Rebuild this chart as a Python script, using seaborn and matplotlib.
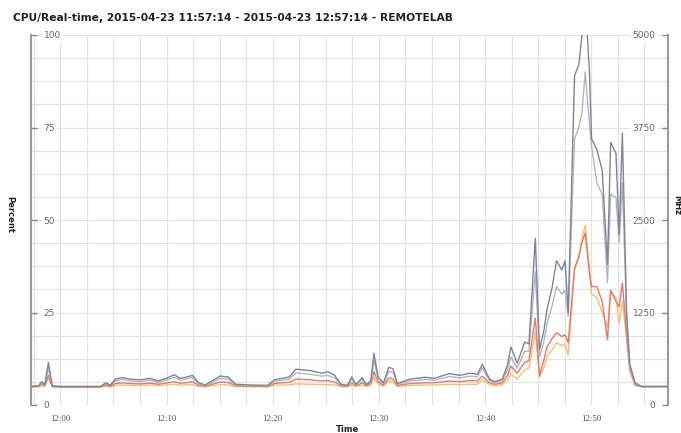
import numpy as np
import pandas as pd
import seaborn as sns
import matplotlib
matplotlib.use("Agg")
import matplotlib.pyplot as plt

# minutes since 2015-04-23 11:57:14
minutes = [0.0, 0.7, 1.0, 1.3, 1.64, 2.0, 2.8, 6.5, 7.1, 7.46, 7.94, 8.6, 9.35, 10.3,
           11.2, 12.0, 12.9, 13.5, 14.04, 14.6, 15.2, 15.8, 16.4, 17.05, 17.8, 18.55,
           19.3, 20.6, 22.3, 22.9, 23.6, 24.3, 24.95, 26.3, 27.4, 27.96, 28.6, 29.2,
           29.8, 30.2, 30.6, 31.2, 31.6, 32.0, 32.3, 32.7, 33.2, 33.7, 34.1, 34.5,
           35.7, 37.1, 38.0, 39.4, 40.4, 41.3, 42.05, 42.5, 43.2, 43.7, 44.4, 44.9,
           45.2, 45.8, 46.5, 46.9, 47.5, 47.9, 48.3, 48.6, 49.1, 49.5, 50.0, 50.3,
           50.6, 51.2, 51.6, 51.9, 52.2, 52.6, 52.8, 53.3, 53.8, 54.3, 54.6, 55.1,
           55.4, 55.7, 56.1, 56.4, 56.9, 57.5, 60.0]

series_dark_gray = [5.0, 5.2, 6.3, 5.5, 11.5, 5.2, 5.0, 5.0, 6.0, 5.3, 7.0, 7.4, 7.0, 6.8,
                    7.2, 6.5, 7.4, 8.2, 7.2, 7.5, 8.0, 6.0, 5.4, 6.5, 7.8, 7.6,
                    5.6, 5.4, 5.3, 6.8, 7.2, 7.5, 9.7, 9.3, 8.6, 9.0, 8.0, 5.6,
                    5.3, 7.6, 5.6, 7.4, 5.5, 6.5, 14.0, 7.5, 6.0, 10.2, 9.8, 5.8,
                    7.0, 7.5, 7.2, 8.5, 8.0, 8.6, 8.3, 11.0, 7.0, 6.3, 7.0, 11.0,
                    15.7, 11.3, 17.0, 16.5, 45.0, 15.0, 20.0, 25.7, 32.0, 39.0, 36.5, 39.0,
                    25.0, 89.0, 92.0, 100.0, 110.0, 90.0, 72.0, 69.0, 63.5, 38.0, 71.0, 68.0,
                    46.0, 73.5, 25.0, 11.0, 6.0, 5.0, 5.0]

series_light_gray = [5.0, 5.1, 6.0, 5.3, 10.0, 5.1, 5.0, 5.0, 5.8, 5.2, 6.5, 6.9, 6.5, 6.3,
                     6.7, 6.1, 6.9, 7.5, 6.7, 7.0, 7.4, 5.7, 5.3, 6.1, 7.2, 7.0,
                     5.4, 5.3, 5.2, 6.4, 6.7, 6.9, 8.7, 8.3, 7.8, 8.0, 7.3, 5.4,
                     5.2, 7.0, 5.4, 6.9, 5.3, 6.2, 12.0, 7.0, 5.8, 9.0, 8.8, 5.6,
                     6.5, 6.9, 6.7, 7.7, 7.3, 7.8, 7.6, 10.0, 6.6, 6.0, 6.6, 9.5,
                     13.0, 10.0, 14.5, 14.5, 36.0, 13.0, 17.0, 22.0, 27.0, 32.0, 30.0, 31.0,
                     24.0, 72.0, 75.0, 79.0, 90.0, 76.0, 70.0, 60.0, 57.0, 33.0, 57.0, 56.0,
                     44.0, 60.0, 24.0, 10.5, 5.8, 5.0, 5.0]

series_red = [5.0, 5.0, 5.6, 5.2, 8.0, 5.0, 4.9, 4.9, 5.4, 5.0, 5.8, 6.0, 5.8, 5.7,
              5.9, 5.6, 6.0, 6.3, 5.9, 6.0, 6.3, 5.3, 5.1, 5.6, 6.2, 6.1,
              5.2, 5.1, 5.0, 5.8, 6.0, 6.1, 7.0, 6.8, 6.5, 6.6, 6.2, 5.2,
              5.1, 6.0, 5.2, 6.0, 5.2, 5.8, 9.0, 6.2, 5.4, 7.3, 7.0, 5.3,
              5.8, 6.0, 6.0, 6.5, 6.3, 6.6, 6.5, 7.8, 6.0, 5.6, 6.0, 8.0,
              10.5, 8.6, 11.5, 12.0, 23.5, 8.0, 12.0, 15.7, 18.0, 19.5, 18.5, 19.0,
              16.8, 37.0, 40.0, 44.0, 46.5, 35.7, 32.0, 32.0, 28.0, 17.6, 31.0, 28.0,
              26.5, 33.0, 19.5, 10.0, 5.5, 5.0, 5.0]

series_orange = [4.8, 4.9, 5.3, 5.0, 7.3, 4.9, 4.8, 4.8, 5.1, 4.9, 5.3, 5.4, 5.3, 5.3,
                 5.4, 5.2, 5.4, 5.6, 5.4, 5.4, 5.6, 5.0, 4.9, 5.2, 5.5, 5.4,
                 5.0, 4.9, 4.9, 5.3, 5.4, 5.4, 5.7, 5.6, 5.5, 5.5, 5.4, 5.0,
                 4.9, 5.4, 5.0, 5.4, 5.0, 5.3, 7.5, 5.5, 5.1, 6.5, 6.2, 5.0,
                 5.3, 5.4, 5.4, 5.6, 5.5, 5.6, 5.6, 6.8, 5.5, 5.2, 5.5, 6.8,
                 8.5, 7.0, 9.5, 10.0, 19.5, 7.5, 10.0, 13.0, 15.0, 16.8, 16.0, 16.5,
                 13.5, 36.5, 40.0, 45.0, 48.6, 37.0, 30.0, 29.0, 25.0, 21.0, 31.0, 29.0,
                 22.0, 28.0, 18.0, 9.0, 5.2, 4.9, 4.9]

series_names = ["orange", "red", "light gray", "dark gray"]
series_colors = ["#f4bd7a", "#e47a68", "#b2b6c1", "#7e8596"]

tick_minutes = [2.767, 12.767, 22.767, 32.767, 42.767, 52.767]
tick_labels = ["12:00", "12:10", "12:20", "12:30", "12:40", "12:50"]
pct_ticks = [0, 25, 50, 75, 100]
mhz_ticks = [0, 1250, 2500, 3750, 5000]
title = "CPU/Real-time, 2015-04-23 11:57:14 - 2015-04-23 12:57:14 - REMOTELAB"

frames = []
for name, vals in zip(series_names, [series_orange, series_red, series_light_gray, series_dark_gray]):
    frames.append(pd.DataFrame({"t": minutes, "value": vals, "series": name}))
df = pd.concat(frames, ignore_index=True)

sns.set_style("white")
plt.rcParams["font.family"] = ["DejaVu Sans"]

fig = plt.figure(figsize=(6.81, 4.33), dpi=100)
ax = fig.add_axes([31 / 681, 28 / 433, 637 / 681, 370 / 433])

sns.lineplot(data=df, x="t", y="value", hue="series", hue_order=series_names,
             palette=dict(zip(series_names, series_colors)), legend=False,
             linewidth=1.0, ax=ax, zorder=2)

ax.set_xlim(0, 60)
ax.set_ylim(0, 100)

# grid
minor_x = np.arange(tick_minutes[0] - 2.5, 60, 2.5)
for xv in minor_x:
    ax.axvline(xv, color="#e3e3e3", lw=0.9, zorder=0)
for yv in np.arange(0, 100.1, 6.25):
    ax.axhline(yv, color="#e3e3e3", lw=0.9, zorder=0)

ax.set_xticks(tick_minutes)
ax.set_xticklabels(tick_labels)
ax.set_yticks(pct_ticks)
ax.set_yticklabels([str(v) for v in pct_ticks])
ax.tick_params(axis="x", direction="out", length=3, width=1, color="#888888",
               labelsize=6.5, labelcolor="#555555", pad=4)
ax.tick_params(axis="y", direction="in", length=4, width=1, color="#888888",
               labelsize=6.5, labelcolor="#666666", pad=-9)
for lab in ax.get_xticklabels():
    lab.set_family(["Liberation Serif", "DejaVu Serif"])
for lab in ax.get_yticklabels():
    lab.set_horizontalalignment("left")
    lab.set_bbox(dict(facecolor="white", edgecolor="none", pad=1.5))

for side in ["top", "bottom", "right"]:
    ax.spines[side].set_visible(False)
ax.spines["left"].set_color("#9a9a9a")
ax.spines["left"].set_linewidth(1.5)

ax2 = ax.twinx()
ax2.set_ylim(0, 5000)
ax2.set_yticks(mhz_ticks)
ax2.set_yticklabels([str(v) for v in mhz_ticks])
ax2.tick_params(axis="y", direction="in", length=4, width=1, color="#888888",
                labelsize=6.5, labelcolor="#666666", pad=-9)
for lab in ax2.get_yticklabels():
    lab.set_horizontalalignment("right")
    lab.set_bbox(dict(facecolor="white", edgecolor="none", pad=1.5))
for side in ["top", "bottom", "left"]:
    ax2.spines[side].set_visible(False)
ax2.spines["right"].set_color("#9a9a9a")
ax2.spines["right"].set_linewidth(1.5)

ax.set_xlabel("")
ax.set_ylabel("")
ax2.set_ylabel("")

fig.text(13 / 681, 1 - 18 / 433, title, fontsize=7.7, fontweight="bold",
         color="#222222", ha="left", va="center")
fig.text(10 / 681, 1 - 215 / 433, "Percent", fontsize=6, fontweight="bold",
         rotation=270, ha="center", va="center", color="#222222")
fig.text(677 / 681, 1 - 205 / 433, "MHz", fontsize=6, fontweight="bold",
         rotation=270, ha="center", va="center", color="#222222")
fig.text(348 / 681, 1 - 430 / 433, "Time", fontsize=6, fontweight="bold",
         ha="center", va="center", color="#222222")

fig.savefig("out.png", dpi=100)
